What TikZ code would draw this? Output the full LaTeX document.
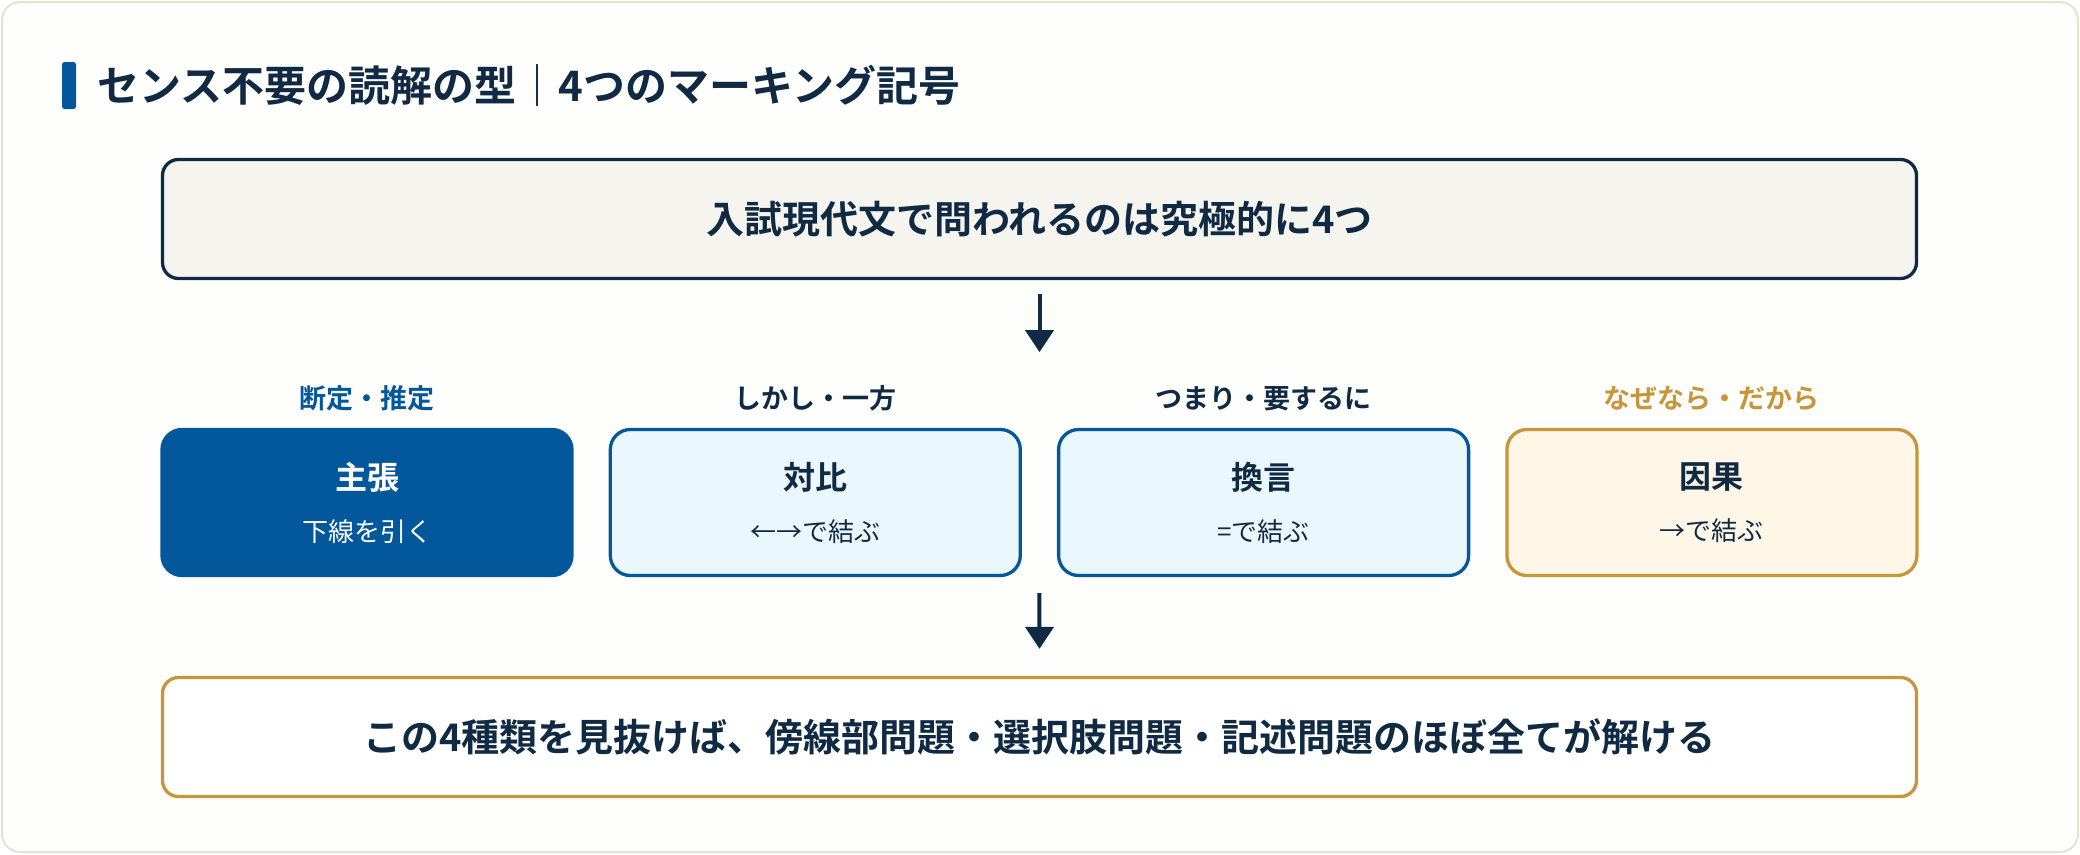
\documentclass[tikz,border=0pt]{standalone}
\usepackage{fontspec}
\setmainfont{Noto Sans CJK JP}[BoldFont={Noto Sans CJK JP Bold}]
\usetikzlibrary{arrows.meta,positioning,calc}
\definecolor{inkNavy}{HTML}{102A43}
\definecolor{markBlue}{HTML}{03579B}
\definecolor{markGold}{HTML}{C8963A}
\definecolor{cardEdge}{HTML}{E4E2D7}
\definecolor{cardFill}{HTML}{FEFEFD}
\definecolor{topFill}{HTML}{F5F4EF}
\definecolor{cyanFill}{HTML}{EAF7FD}
\definecolor{creamFill}{HTML}{FEF6E6}
\newcommand{\markhead}[1]{{\fontsize{32}{52}\selectfont\bfseries #1}}
\tikzset{
  titleBar/.style={fill=markBlue, rounded corners=2.5pt, minimum width=14pt,
    minimum height=47pt, inner sep=0pt},
  titleText/.style={font=\fontsize{42}{50}\selectfont\bfseries, text=inkNavy, inner sep=0pt},
  wideBox/.style={rounded corners=16pt, line width=3.3pt, minimum width=1754pt,
    minimum height=119pt, font=\fontsize{38}{46}\selectfont\bfseries, text=inkNavy},
  questionBox/.style={wideBox, draw=inkNavy, fill=topFill},
  resultBox/.style={wideBox, draw=markGold, fill=white},
  markBox/.style={rounded corners=20pt, line width=3.3pt, minimum width=410pt,
    minimum height=146pt, align=center, font=\fontsize{26}{52}\selectfont, text=inkNavy},
  claimBox/.style={markBox, draw=markBlue, fill=markBlue, text=white},
  blueBox/.style={markBox, draw=markBlue, fill=cyanFill},
  goldBox/.style={markBox, draw=markGold, fill=creamFill},
  capLabel/.style={font=\fontsize{27}{32}\selectfont\bfseries, inner sep=0pt},
  flowArrow/.style={-{Triangle[length=22pt,width=28pt]}, line width=4pt, draw=inkNavy},
}

\begin{document}
\begin{tikzpicture}[x=1pt, y=-1pt]
    \useasboundingbox (0,0) rectangle (2080,854);
    \draw[draw=cardEdge, fill=cardFill, line width=2pt, rounded corners=18pt] (2,2) rectangle (2078,852);
    \node[titleBar] (bar) at (69,85.5) {};
    \node[titleText, right=21pt of bar] (title) {センス不要の読解の型｜4つのマーキング記号};
    \node[questionBox] (question) at (1039.5,219) {入試現代文で問われるのは究極的に4つ};
    \node[claimBox] (claim) at (367,502.5) {\markhead{主張}\\下線を引く};
    \node[blueBox, right=35pt of claim] (contrast) {\markhead{対比}\\←→で結ぶ};
    \node[blueBox, right=35pt of contrast] (restate) {\markhead{換言}\\=で結ぶ};
    \node[goldBox, right=35pt of restate] (cause) {\markhead{因果}\\→で結ぶ};
    \node[capLabel, text=markBlue, above=17pt of claim] (claimTag) {断定・推定};
    \node[capLabel, text=inkNavy, above=17pt of contrast] (contrastTag) {しかし・一方};
    \node[capLabel, text=inkNavy, above=17pt of restate] (restateTag) {つまり・要するに};
    \node[capLabel, text=markGold, above=17pt of cause] (causeTag) {なぜなら・だから};
    \node[resultBox] (result) at (1039.5,737) {この4種類を見抜けば、傍線部問題・選択肢問題・記述問題のほぼ全てが解ける};
    \coordinate (rowGap) at ($(contrast.south east)!0.5!(restate.south west)$);
    \draw[flowArrow] ([yshift=-14pt]question.south) -- ([yshift=-72pt]question.south);
    \draw[flowArrow] ([yshift=-16pt]rowGap) -- ([yshift=27pt]result.north);
\end{tikzpicture}
\end{document}
